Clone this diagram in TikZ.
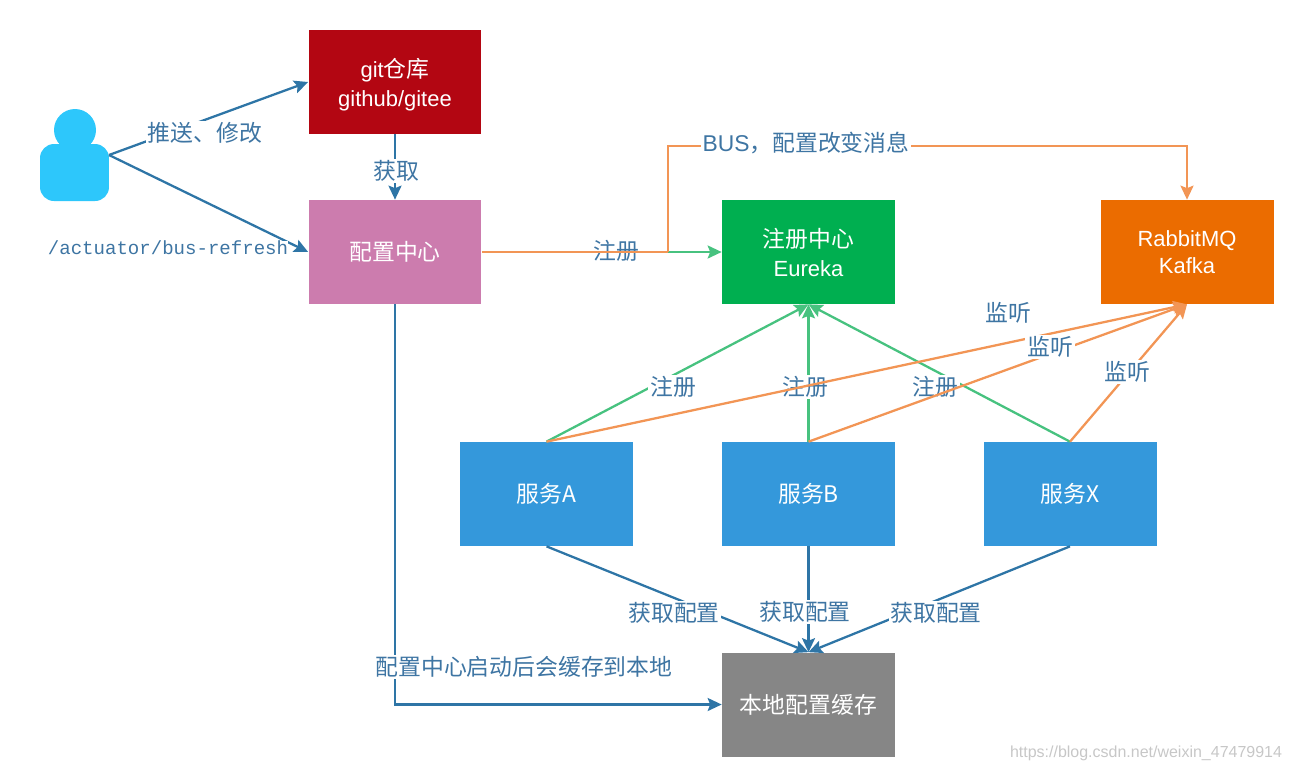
\documentclass[tikz,border=0pt]{standalone}
\usepackage{fontspec}
\setmainfont{Noto Sans CJK SC}
\newfontfamily\refreshfont{Liberation Mono}
\newfontfamily\markfont{Liberation Sans}
\usetikzlibrary{arrows.meta}
\definecolor{gitred}{HTML}{B30612}
\definecolor{configpink}{HTML}{CC7CAE}
\definecolor{eurekagreen}{HTML}{00AF50}
\definecolor{mqorange}{HTML}{EB6C00}
\definecolor{serviceblue}{HTML}{3498DB}
\definecolor{cachegray}{HTML}{868686}
\definecolor{userblue}{HTML}{2DC7FB}
\definecolor{lineblue}{HTML}{2E75A6}
\definecolor{linegreen}{HTML}{47C27F}
\definecolor{lineorange}{HTML}{F29555}
\definecolor{labelblue}{HTML}{3E75A3}
\begin{document}
\begin{tikzpicture}[x=0.02cm,y=0.02cm,
  boxnode/.style={minimum width=3.46cm,minimum height=2.08cm,inner sep=0pt,align=center,text=white,font=\fontsize{13}{16.5}\selectfont},
  labelnode/.style={fill=white,inner sep=1pt,text=labelblue,font=\fontsize{13}{15}\selectfont},
  bareline/.style={labelnode,fill=none},
  blueline/.style={lineblue,line width=1.3pt,-{Stealth[length=0.28cm,width=0.26cm,inset=0.05cm]}},
  greenline/.style={linegreen,line width=1.3pt,-{Stealth[length=0.28cm,width=0.26cm,inset=0.05cm]}},
  orangeline/.style={lineorange,line width=1.3pt,-{Stealth[length=0.28cm,width=0.26cm,inset=0.05cm]}}]
\useasboundingbox (0,0) rectangle (1290,-772);
\node [boxnode,fill=gitred] (gitrepo) at (395,-82) {\rule{0pt}{14.5pt}{\markfont\fontsize{12.5}{16.5}\selectfont git}仓库\\{\markfont\fontsize{12.5}{16.5}\selectfont github/gitee}};
\node [boxnode,fill=configpink] (config) at (395,-252) {配置中心};
\node [boxnode,fill=eurekagreen] (eureka) at (808.5,-252) {注册中心\\{\markfont\fontsize{12.5}{16.5}\selectfont Eureka}};
\node [boxnode,fill=mqorange,font=\fontsize{12.5}{15.5}\markfont] (rabbit) at (1187,-252) {RabbitMQ\\Kafka};
\node [boxnode,fill=serviceblue] (servicea) at (546.5,-494) {服务A};
\node [boxnode,fill=serviceblue] (serviceb) at (808.5,-494) {服务B};
\node [boxnode,fill=serviceblue] (servicex) at (1070,-494) {服务X};
\node [boxnode,fill=cachegray] (cache) at (808.5,-704.5) {本地配置缓存};
\fill [userblue] (75,-130) circle (21);
\node [fill=userblue,rounded corners=0.28cm,minimum width=1.38cm,minimum height=1.14cm,inner sep=0pt] (user) at (74.5,-172.5) {};
\coordinate (userport) at (109,-155);
\coordinate (busturn) at (668,-252);
\coordinate (busup) at (668,-146);
\coordinate (busright) at (1187,-146);
\coordinate (cacheturn) at (395,-704.5);
\draw [blueline] (userport) -- (gitrepo.west);
\draw [blueline] (userport) -- (config.west);
\draw [blueline] (gitrepo.south) -- (config.north);
\draw [blueline] (config.south) -- (cacheturn) -- (cache.west);
\draw [blueline] (servicea.south) -- (cache.north);
\draw [blueline] (serviceb.south) -- (cache.north);
\draw [blueline] (servicex.south) -- (cache.north);
\node [labelnode] (pushlabel) at (205,-133) {推送、修改};
\node [labelnode,inner sep=0pt,font=\fontsize{10.85}{12}\refreshfont] (refreshlabel) at (168,-248) {/actuator/bus-refresh};
\node [labelnode] (fetchlabel) at (396,-171) {获取};
\node [labelnode] (startlabel) at (524,-667) {配置中心启动后会缓存到本地};
\node [labelnode] (geta) at (674,-613) {获取配置};
\node [labelnode] (getb) at (805,-612) {获取配置};
\node [labelnode] (getx) at (936,-613) {获取配置};
\draw [greenline] (servicea.north) -- (eureka.south);
\draw [greenline] (serviceb.north) -- (eureka.south);
\draw [greenline] (servicex.north) -- (eureka.south);
\node [labelnode] (rega) at (673,-387) {注册};
\node [labelnode] (regb) at (805,-387) {注册};
\node [labelnode] (regx) at (935,-387) {注册};
\node [bareline] (regconfig) at (616,-251) {注册};
\draw [lineorange,line width=1.3pt] (config.east) -- (busturn);
\draw [greenline] (busturn) -- (eureka.west);
\draw [orangeline] (busturn) -- (busup) -- (busright) -- (rabbit.north);
\node [labelnode] (buslabel) at (806,-143) {{\markfont BUS}，配置改变消息};
\draw [orangeline] (servicea.north) -- (rabbit.south);
\draw [orangeline] (serviceb.north) -- (rabbit.south);
\draw [orangeline] (servicex.north) -- (rabbit.south);
\node [labelnode] (listena) at (1008,-313) {监听};
\node [labelnode] (listenb) at (1050,-347) {监听};
\node [labelnode] (listenx) at (1127,-372) {监听};
\node [inner sep=0pt,text=black!22,font=\fontsize{9.1}{10}\markfont] (watermark) at (1146,-753) {https://blog.csdn.net/weixin\_47479914};
\end{tikzpicture}
\end{document}
